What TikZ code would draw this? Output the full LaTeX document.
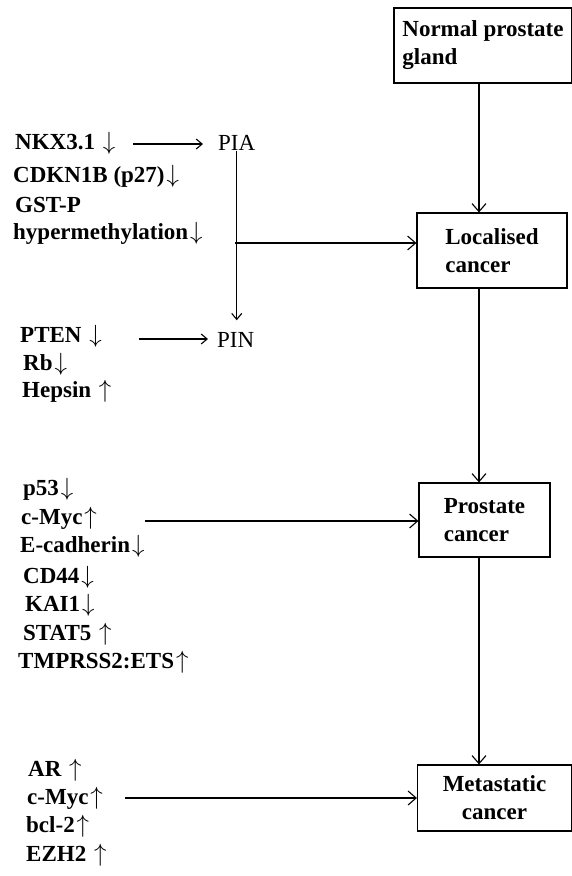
\documentclass[tikz,border=0pt]{standalone}
\usepackage{fontspec}
\setmainfont{Liberation Serif}
\usetikzlibrary{arrows.meta}

\newcommand{\upreg}{\kern2pt\ensuremath{\uparrow}}
\newcommand{\downreg}{\kern2pt\ensuremath{\downarrow}}

\tikzset{
  stage/.style={draw, line width=1.2pt, inner sep=0pt, font=\fontsize{23}{28}\selectfont\bfseries},
  gene/.style={anchor=west, inner sep=0pt, font=\fontsize{23}{28}\selectfont\bfseries},
  lesion/.style={anchor=west, inner sep=0pt, font=\fontsize{23}{28}\selectfont},
  arr/.style={line width=1.1pt, -{Straight Barb[length=8pt, width=14pt]}},
  smallarr/.style={line width=1.1pt, -{Straight Barb[length=6pt, width=10pt]}}
}

\begin{document}
\begin{tikzpicture}[x=1pt, y=-1pt]
  \path[use as bounding box] (0,0) rectangle (572,876);

  % progression stages
  \node[stage, minimum width=178pt, minimum height=75pt, align=left] (normal) at (483,45.5) {Normal prostate\\gland};
  \node[stage, minimum width=150pt, minimum height=75pt, align=left] (localised) at (492,250.5) {Localised\\cancer};
  \node[stage, minimum width=131pt, minimum height=74pt, align=left] (prostate) at (484.5,520) {Prostate\\cancer};
  \node[stage, minimum width=154pt, minimum height=66pt, align=center] (metastatic) at (494.5,798) {Metastatic\\cancer};
  \coordinate (spine) at (479,0);
  \draw[arr] (normal.south -| spine) -- (localised.north -| spine);
  \draw[arr] (localised.south -| spine) -- (prostate.north -| spine);
  \draw[arr] (prostate.south -| spine) -- (metastatic.north -| spine);

  % early lesions
  \node[gene] (nkx) at (15,143) {NKX3.1 \downreg};
  \node[gene] (cdkn) at (13,176) {CDKN1B (p27)\downreg};
  \node[gene] (gstp) at (15,205) {GST-P};
  \node[gene] (hyper) at (13,233) {hypermethylation\downreg};
  \node[lesion] (pia) at (218,143) {PIA};
  \node[lesion] (pin) at (217,340) {PIN};
  \coordinate (nkxarr) at (133,144);
  \draw[smallarr, shorten >=15pt] (nkxarr) -- (pia.west |- nkxarr);
  \draw[smallarr] (pia.south) -- ([yshift=12pt]pia.south |- pin.north);
  \coordinate (hyparr) at (235,243);
  \draw[arr] (hyparr) -- (localised.west |- hyparr);

  \node[gene] (pten) at (20,336) {PTEN \downreg};
  \node[gene] (rb) at (23,364) {Rb\downreg};
  \node[gene] (hepsin) at (22,391) {Hepsin \upreg};
  \coordinate (ptenarr) at (139,339);
  \draw[smallarr, shorten >=9pt] (ptenarr) -- (pin.west |- ptenarr);

  % invasive markers
  \node[gene] (p53) at (23,489) {p53\downreg};
  \node[gene] (myc) at (21,518) {c-Myc\upreg};
  \node[gene] (ecad) at (20,546) {E-cadherin\downreg};
  \node[gene] (cd44) at (23,577) {CD44\downreg};
  \node[gene] (kai) at (25,605) {KAI1\downreg};
  \node[gene] (stat) at (23,634) {STAT5 \upreg};
  \node[gene] (tmprss) at (18,662) {TMPRSS2:ETS\upreg};
  \coordinate (mycarr) at (145,521);
  \draw[arr] (mycarr) -- (prostate.west |- mycarr);

  % metastasis markers
  \node[gene] (ar) at (28,770) {AR \upreg};
  \node[gene] (myc2) at (27,798) {c-Myc\upreg};
  \node[gene] (bcl) at (26,826) {bcl-2\upreg};
  \node[gene] (ezh) at (26,855) {EZH2 \upreg};
  \coordinate (metarr) at (125,798);
  \draw[arr] (metarr) -- (metastatic.west |- metarr);
\end{tikzpicture}
\end{document}
